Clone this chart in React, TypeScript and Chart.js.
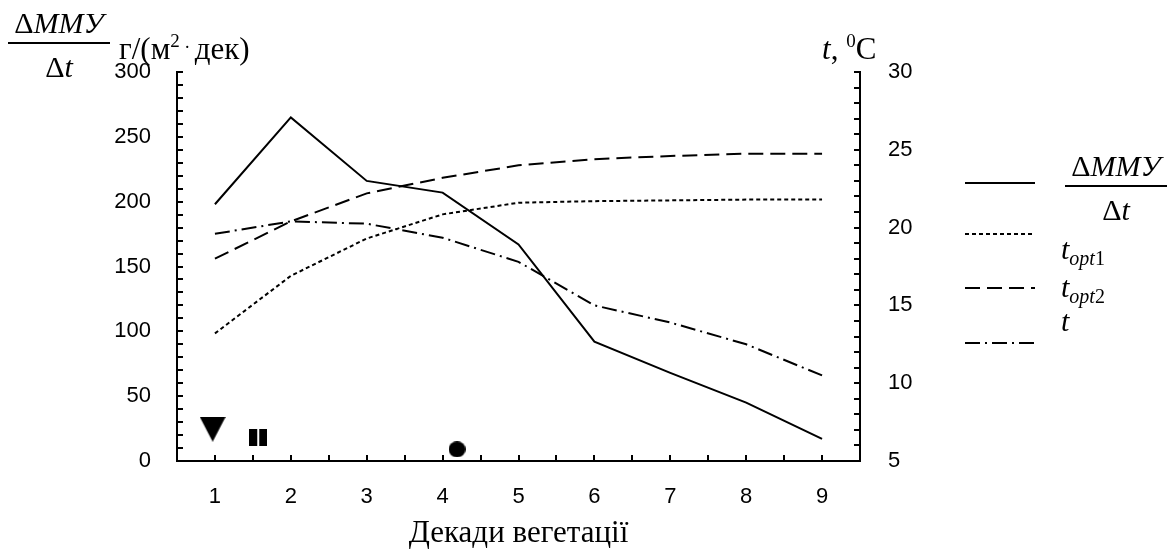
import React, { useEffect, useRef } from "react";
import { Chart, registerables } from "chart.js";

Chart.register(...registerables);

// ---- data ----
const decades = [1, 2, 3, 4, 5, 6, 7, 8, 9];
const dmmuValues = [198, 265, 216, 207, 167, 92, 68, 45, 17];
const tOpt1Values = [13.2, 16.9, 19.3, 20.85, 21.6, 21.7, 21.75, 21.8, 21.8];
const tOpt2Values = [18.0, 20.4, 22.2, 23.2, 24.0, 24.4, 24.6, 24.75, 24.75];
const tValues = [19.6, 20.4, 20.25, 19.35, 17.8, 15.0, 13.9, 12.5, 10.5];
const leftTickValues = [0, 50, 100, 150, 200, 250, 300];
const rightTickValues = [5, 10, 15, 20, 25, 30];
const phaseX = [0.97, 1.57, 4.19];
const phaseY = [24.5, 18, 9];

const leftMinorStep = 10;
const rightMinorStep = 1;
const xMinorStep = 0.5;

const SERIF = "'Liberation Serif', 'Times New Roman', serif";
const SANS = "'Liberation Sans', Arial, sans-serif";

const DASH_OPT1 = [4, 3];
const DASH_OPT2 = [15, 7];
const DASH_T = [15, 5, 2, 5];

function makeTriangle() {
  const c = document.createElement("canvas");
  c.width = 26; c.height = 25;
  const g = c.getContext("2d")!;
  g.fillStyle = "#000";
  g.beginPath(); g.moveTo(0, 0); g.lineTo(26, 0); g.lineTo(13, 25); g.closePath(); g.fill();
  return c;
}
function makeBars() {
  const c = document.createElement("canvas");
  c.width = 18; c.height = 17;
  const g = c.getContext("2d")!;
  g.fillStyle = "#000";
  g.fillRect(0, 0, 8, 17);
  g.fillRect(10, 0, 8, 17);
  return c;
}
function makeCircle() {
  const c = document.createElement("canvas");
  c.width = 17; c.height = 16;
  const g = c.getContext("2d")!;
  g.fillStyle = "#000";
  g.beginPath(); g.ellipse(8.5, 8, 8.5, 8, 0, 0, Math.PI * 2); g.fill();
  return c;
}

const axisPlugin = {
  id: "axisDecor",
  afterDraw(chart: any) {
    const { ctx, chartArea, scales } = chart;
    const y = scales.y, y1 = scales.y1, x = scales.x;
    ctx.save();
    ctx.strokeStyle = "#000";
    ctx.lineWidth = 2;
    ctx.beginPath();
    for (let v = y.min; v <= y.max + 1e-9; v += leftMinorStep) {
      const p = Math.round(y.getPixelForValue(v));
      ctx.moveTo(chartArea.left, p); ctx.lineTo(chartArea.left + 6, p);
    }
    for (let v = y1.min; v <= y1.max + 1e-9; v += rightMinorStep) {
      const p = Math.round(y1.getPixelForValue(v));
      ctx.moveTo(chartArea.right - 6, p); ctx.lineTo(chartArea.right, p);
    }
    for (let v = decades[0]; v <= x.max + 1e-9; v += xMinorStep) {
      const p = Math.round(x.getPixelForValue(v));
      ctx.moveTo(p, chartArea.bottom); ctx.lineTo(p, chartArea.bottom - 6);
    }
    ctx.stroke();

    // legend samples
    const lx0 = chartArea.right + 105, lx1 = chartArea.right + 175;
    const rows: [number, number[]][] = [
      [183, []],
      [234, DASH_OPT1],
      [288, DASH_OPT2],
      [343, DASH_T],
    ];
    for (const [ly, dash] of rows) {
      ctx.beginPath();
      ctx.setLineDash(dash);
      ctx.moveTo(lx0, ly); ctx.lineTo(lx1, ly);
      ctx.stroke();
    }
    ctx.restore();
  },
};

function Fraction(props: { left: number; top: number; width: number; size: number }) {
  const { left, top, width, size } = props;
  return (
    <div style={{ position: "absolute", left, top, width, fontFamily: SERIF, fontSize: size, lineHeight: 1, textAlign: "center", color: "#000" }}>
      <div style={{ paddingBottom: 4 }}>Δ<i>MMУ</i></div>
      <div style={{ borderTop: "2px solid #000", paddingTop: 8 }}>Δ<i>t</i></div>
    </div>
  );
}

export default function App() {
  const ref = useRef<HTMLCanvasElement | null>(null);
  useEffect(() => {
    if (!ref.current) return;
    const pointStyles = [makeTriangle(), makeBars(), makeCircle()];
    const chart = new Chart(ref.current, {
      type: "line",
      data: {
        datasets: [
          { label: "ΔMMУ/Δt", data: decades.map((d, i) => ({ x: d, y: dmmuValues[i] })), yAxisID: "y", borderColor: "#000", borderWidth: 2, pointRadius: 0, tension: 0 },
          { label: "t_opt1", data: decades.map((d, i) => ({ x: d, y: tOpt1Values[i] })), yAxisID: "y1", borderColor: "#000", borderWidth: 2, borderDash: DASH_OPT1, pointRadius: 0 },
          { label: "t_opt2", data: decades.map((d, i) => ({ x: d, y: tOpt2Values[i] })), yAxisID: "y1", borderColor: "#000", borderWidth: 2, borderDash: DASH_OPT2, pointRadius: 0 },
          { label: "t", data: decades.map((d, i) => ({ x: d, y: tValues[i] })), yAxisID: "y1", borderColor: "#000", borderWidth: 2, borderDash: DASH_T, pointRadius: 0 },
          { label: "phases", data: phaseX.map((px, i) => ({ x: px, y: phaseY[i] })), yAxisID: "y", showLine: false, pointStyle: pointStyles as any, pointRadius: 10, clip: false as any },
        ],
      },
      options: {
        animation: false,
        responsive: false,
        devicePixelRatio: 1,
        layout: { padding: { top: 72, left: 0, right: 0, bottom: 0 } },
        plugins: { legend: { display: false }, tooltip: { enabled: false } },
        scales: {
          x: {
            type: "linear", min: 0.5, max: 9.5,
            grid: { display: false, drawTicks: false },
            border: { display: true, color: "#000", width: 2 },
            afterBuildTicks: (s: any) => { s.ticks = decades.map((v) => ({ value: v })); },
            afterFit: (s: any) => { s.height = 95; },
            ticks: { autoSkip: false, maxRotation: 0, padding: 23, color: "#000", font: { family: SANS, size: 22 }, callback: (v: any) => String(v) },
          },
          y: {
            type: "linear", position: "left", min: 0, max: 300,
            grid: { display: false, drawTicks: false },
            border: { display: true, color: "#000", width: 2 },
            afterBuildTicks: (s: any) => { s.ticks = leftTickValues.map((v) => ({ value: v })); },
            afterFit: (s: any) => { s.width = 177; },
            ticks: { padding: 26, color: "#000", font: { family: SANS, size: 22 } },
          },
          y1: {
            type: "linear", position: "right", min: 5, max: 30,
            grid: { display: false, drawTicks: false },
            border: { display: true, color: "#000", width: 2 },
            afterBuildTicks: (s: any) => { s.ticks = rightTickValues.map((v) => ({ value: v })); },
            afterFit: (s: any) => { s.width = 313; },
            ticks: { padding: 28, color: "#000", font: { family: SANS, size: 22 } },
          },
        },
      },
      plugins: [axisPlugin],
    });
    return () => chart.destroy();
  }, []);

  return (
    <div style={{ position: "fixed", left: 0, top: 0, width: 1173, height: 556, background: "#fff" }}>
      <canvas ref={ref} width={1173} height={556} style={{ position: "absolute", left: 0, top: 0 }} />
      {/* top-left axis label */}
      <Fraction left={8} top={8} width={102} size={30} />
      <div style={{ position: "absolute", left: 119, top: 31, fontFamily: SERIF, fontSize: 31, lineHeight: 1, whiteSpace: "nowrap" }}>
        г/(м<sup style={{ fontSize: 19, verticalAlign: 12 }}>2</sup>
        <span style={{ fontSize: 18, verticalAlign: 6 }}>&nbsp;·&nbsp;</span>дек)
      </div>
      {/* top-right axis label */}
      <div style={{ position: "absolute", left: 822, top: 31, fontFamily: SERIF, fontSize: 31, lineHeight: 1, whiteSpace: "nowrap" }}>
        <i>t</i>, <sup style={{ fontSize: 19, verticalAlign: 12 }}>0</sup>C
      </div>
      {/* x title */}
      <div style={{ position: "absolute", left: 177, width: 683, top: 516, textAlign: "center", fontFamily: SERIF, fontSize: 31, lineHeight: 1 }}>
        Декади вегетації
      </div>
      {/* legend */}
      <Fraction left={1065} top={151} width={102} size={30} />
      <div style={{ position: "absolute", left: 1061, top: 234, fontFamily: SERIF, fontSize: 30, lineHeight: 1, whiteSpace: "nowrap" }}>
        <i>t</i><sub style={{ fontSize: 20, verticalAlign: -6 }}><i>opt</i>1</sub>
      </div>
      <div style={{ position: "absolute", left: 1061, top: 272, fontFamily: SERIF, fontSize: 30, lineHeight: 1, whiteSpace: "nowrap" }}>
        <i>t</i><sub style={{ fontSize: 20, verticalAlign: -6 }}><i>opt</i>2</sub>
      </div>
      <div style={{ position: "absolute", left: 1061, top: 306, fontFamily: SERIF, fontSize: 30, lineHeight: 1, whiteSpace: "nowrap" }}>
        <i>t</i>
      </div>
    </div>
  );
}
